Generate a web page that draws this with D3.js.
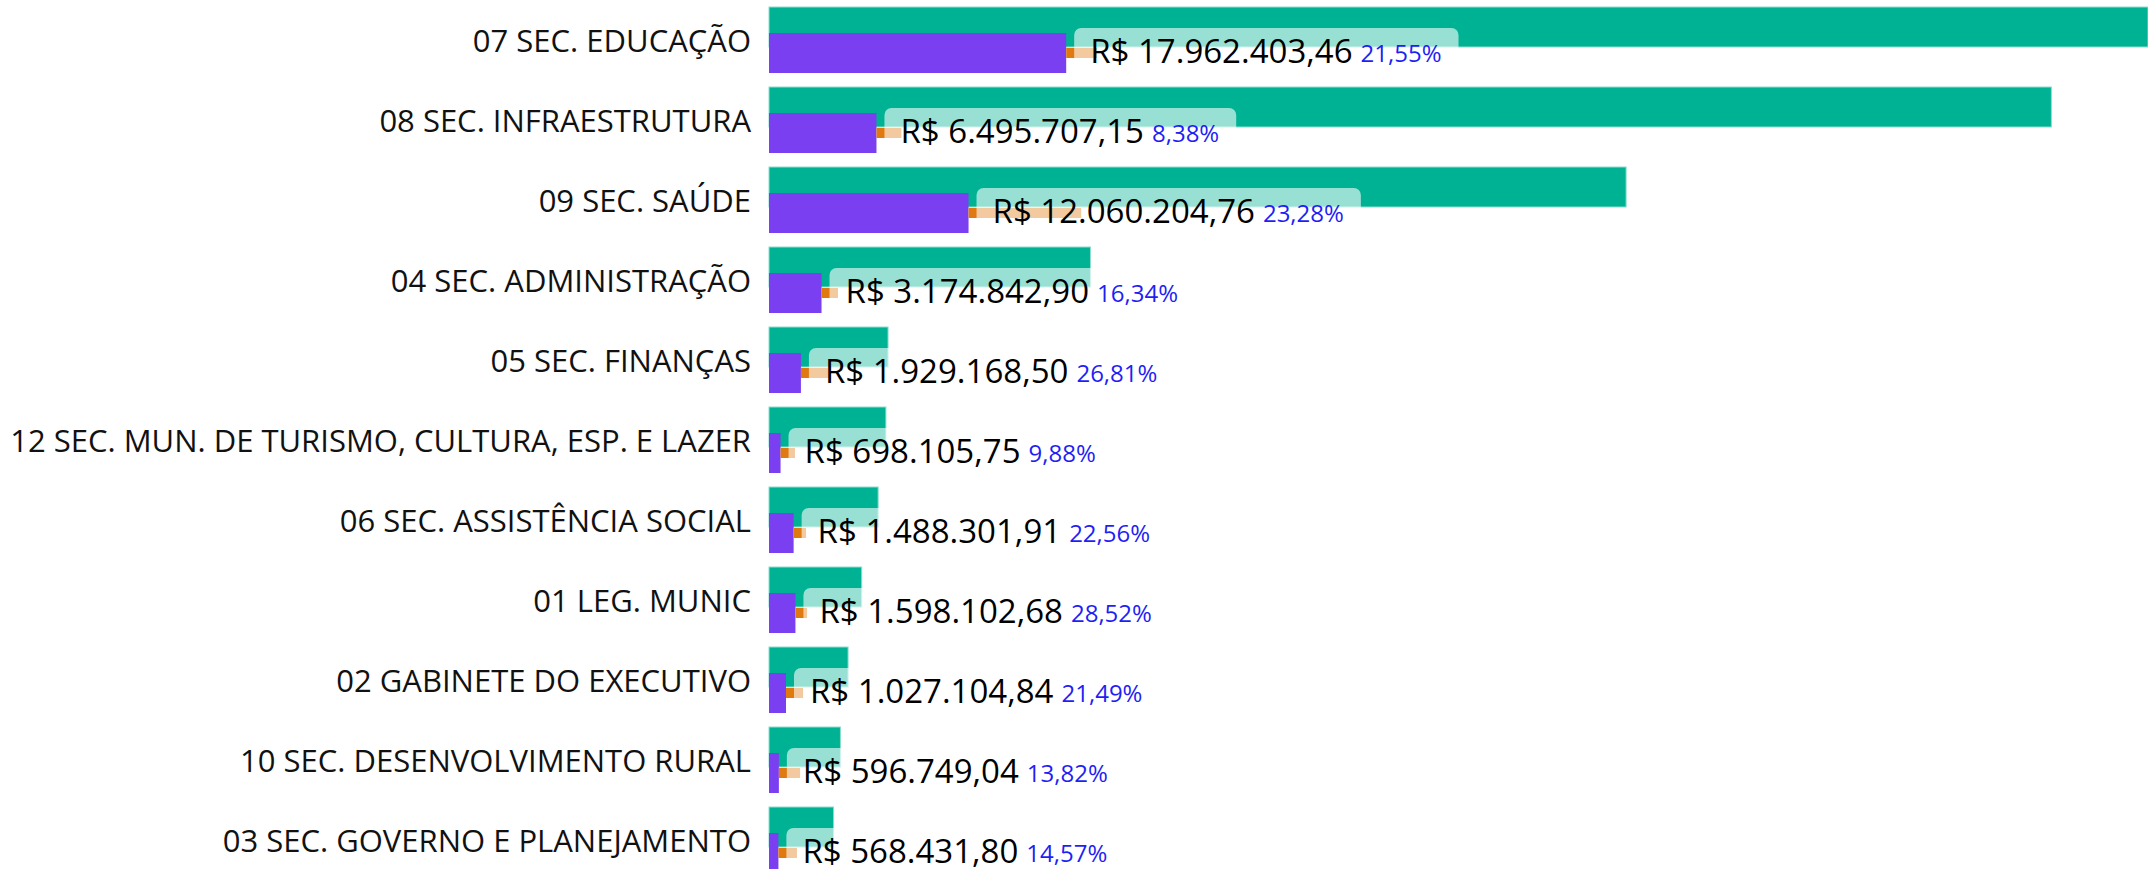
<!DOCTYPE html>
<html><head><meta charset="utf-8">
<script src="https://cdn.jsdelivr.net/npm/d3@7"></script>
<style>html,body{margin:0;padding:0;background:#fff;overflow:hidden}</style>
</head><body>
<svg id="chart" width="2148" height="869"></svg>
<script>
const categories = ["07 SEC. EDUCAÇÃO","08 SEC. INFRAESTRUTURA","09 SEC. SAÚDE","04 SEC. ADMINISTRAÇÃO","05 SEC. FINANÇAS","12 SEC. MUN. DE TURISMO, CULTURA, ESP. E LAZER","06 SEC. ASSISTÊNCIA SOCIAL","01 LEG. MUNIC","02 GABINETE DO EXECUTIVO","10 SEC. DESENVOLVIMENTO RURAL","03 SEC. GOVERNO E PLANEJAMENTO"];
const executed = [17962403.46, 6495707.15, 12060204.76, 3174842.90, 1929168.50, 698105.75, 1488301.91, 1598102.68, 1027104.84, 596749.04, 568431.80];
const budget = [83350000, 77510000, 51805000, 19430000, 7195700, 7065800, 6597100, 5603400, 4779500, 4318000, 3901400];
const committed = [19830000, 8000000, 18870000, 4170000, 3690000, 1570000, 2240000, 2300000, 2060000, 1880000, 1690000];
const percentLabels = ["21,55%","8,38%","23,28%","16,34%","26,81%","9,88%","22,56%","28,52%","21,49%","13,82%","14,57%"];

const W = 2148, H = 869;
const svg = d3.select("#chart");
const rows = categories.map((c, i) => ({cat: c, exec: executed[i], bud: budget[i], com: committed[i], pct: percentLabels[i]}));

const x = d3.scaleLinear().domain([0, d3.max(budget)]).range([769, W]);
const y = d3.scaleBand().domain(categories).range([0, 880]).paddingInner(0.175).paddingOuter(0.0875);

const br = d3.formatLocale({decimal: ",", thousands: ".", grouping: [3], currency: ["R$ ", ""]});
const fmt = br.format("$,.2f");

const FONT = "'Open Sans', 'Noto Sans', sans-serif";

// category labels
svg.append("g").selectAll("text").data(rows).join("text")
  .attr("x", 751).attr("y", d => y(d.cat) + 45)
  .attr("text-anchor", "end")
  .style("font-family", FONT).style("font-size", "31px").attr("fill", "#111")
  .text(d => d.cat);

// budget bars
svg.append("g").selectAll("rect").data(rows).join("rect")
  .attr("x", x(0)).attr("y", d => y(d.cat))
  .attr("width", d => x(d.bud) - x(0)).attr("height", 40)
  .attr("fill", "#00B294").attr("stroke", "#8ddccd").attr("stroke-width", 1);

// executed bars
svg.append("g").selectAll("rect").data(rows).join("rect")
  .attr("x", x(0)).attr("y", d => y(d.cat) + 26)
  .attr("width", d => x(d.exec) - x(0)).attr("height", 40)
  .attr("fill", "#7A3FF0");

// committed marker (orange)
const og = svg.append("g");
og.selectAll("rect.blk").data(rows).join("rect").attr("class", "blk")
  .attr("x", d => x(d.exec)).attr("y", d => y(d.cat) + 41)
  .attr("width", d => Math.max(0, x(d.com) - x(d.exec))).attr("height", 10)
  .attr("fill", "#E07A10");

// label groups
const lg = svg.append("g").selectAll("g").data(rows).join("g");
const bg = lg.append("rect")
  .attr("y", d => y(d.cat) + 21).attr("height", 44).attr("rx", 7)
  .attr("fill", "#fff").attr("fill-opacity", 0.6);
const vt = lg.append("text")
  .attr("x", d => x(d.exec) + 24).attr("y", d => y(d.cat) + 56)
  .style("font-family", FONT).style("font-size", "33px").attr("fill", "#000")
  .text(d => fmt(d.exec));
const pt = lg.append("text")
  .attr("y", d => y(d.cat) + 55)
  .style("font-family", FONT).style("font-size", "24px").attr("fill", "#1f1ff5")
  .text(d => d.pct);

lg.each(function(d) {
  const g = d3.select(this);
  const v = g.select("text").node();
  const vx = x(d.exec) + 24;
  const vw = v.getComputedTextLength();
  const p = g.selectAll("text").nodes()[1];
  d3.select(p).attr("x", vx + vw + 8);
  const pw = p.getComputedTextLength();
  g.select("rect").attr("x", x(d.exec) + 8).attr("width", (vx + vw + 8 + pw + 17) - (x(d.exec) + 8));
});
</script>
</body></html>
